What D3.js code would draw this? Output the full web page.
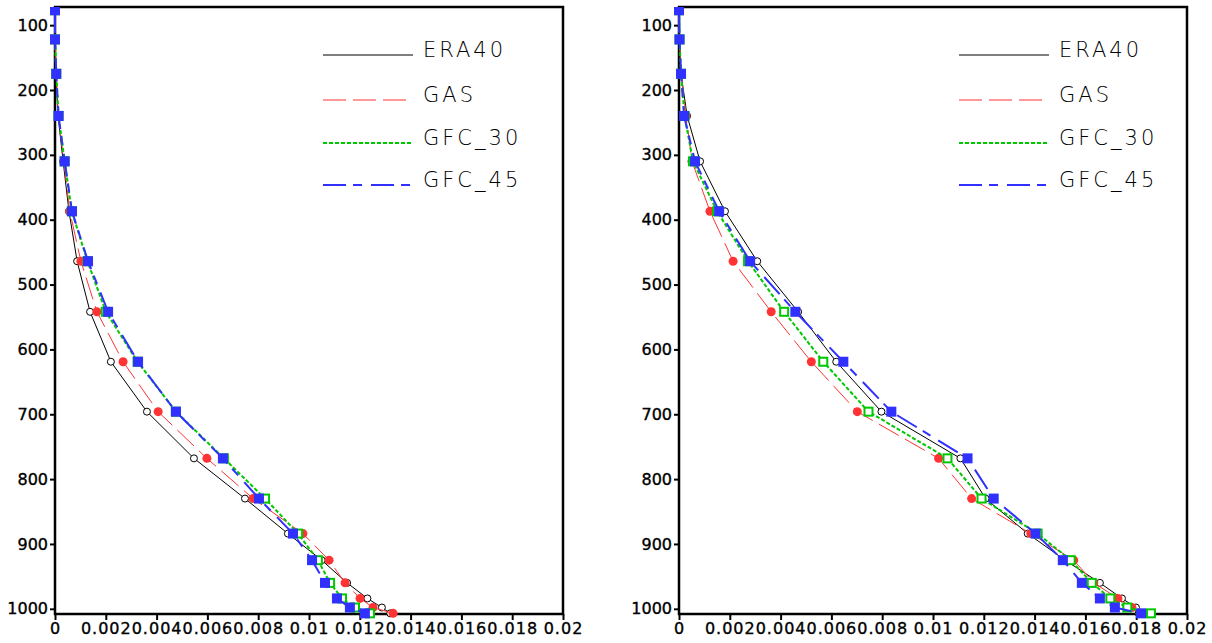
<!DOCTYPE html>
<html><head><meta charset="utf-8">
<script src="https://cdn.jsdelivr.net/npm/d3@7/dist/d3.min.js"></script>
<style>body{margin:0;background:#fff}svg{display:block}</style>
</head><body>
<script>
// ---- data ----
const seriesNames = ["ERA40", "GAS", "GFC_30", "GFC_45"];
const levels = [77, 122, 175, 240, 310, 387, 464, 542, 619, 696, 768, 830, 884, 925, 960, 984, 998, 1007];
const xTicks = [0, 0.002, 0.004, 0.006, 0.008, 0.01, 0.012, 0.014, 0.016, 0.018, 0.02];
const yTicks = [100, 200, 300, 400, 500, 600, 700, 800, 900, 1000];

const leftERA40 = [0, 0, 0.00004, 0.00012, 0.00032, 0.00055, 0.00087, 0.00138, 0.0022, 0.00362, 0.00547, 0.00748, 0.00917, 0.0105, 0.0115, 0.0123, 0.01287, 0.0132];
const leftGAS   = [0, 0, 0.00005, 0.00013, 0.00035, 0.00058, 0.00102, 0.00165, 0.00268, 0.00406, 0.00598, 0.0078, 0.00976, 0.01079, 0.01142, 0.01201, 0.01252, 0.01331];
const leftGFC30 = [0, 0, 0.00005, 0.00014, 0.00038, 0.00066, 0.00128, 0.002, 0.00325, 0.00476, 0.00665, 0.00827, 0.00957, 0.01035, 0.01083, 0.0113, 0.01181, 0.0124];
const leftGFC45 = [0, 0, 0.00005, 0.00014, 0.00038, 0.00067, 0.0013, 0.00209, 0.00327, 0.00476, 0.00661, 0.00803, 0.00937, 0.01012, 0.01063, 0.0111, 0.01161, 0.0122];

const rightERA40 = [0, 0.00002, 0.00008, 0.00032, 0.00083, 0.00181, 0.00308, 0.00469, 0.00619, 0.00797, 0.01108, 0.01207, 0.01373, 0.0152, 0.01657, 0.01744, 0.01799, 0.0181];
const rightGAS   = [0, 0.00002, 0.00008, 0.00028, 0.00051, 0.00122, 0.00213, 0.00363, 0.00521, 0.00702, 0.01022, 0.01152, 0.01385, 0.01554, 0.01633, 0.01728, 0.01783, 0.0182];
const rightGFC30 = [0, 0.00002, 0.00008, 0.00022, 0.00055, 0.0015, 0.00272, 0.00414, 0.00568, 0.00746, 0.01057, 0.01191, 0.01412, 0.01542, 0.01625, 0.01698, 0.01765, 0.01858];
const rightGFC45 = [0, 0.00002, 0.00008, 0.0002, 0.00063, 0.00158, 0.0028, 0.00458, 0.00647, 0.00836, 0.01136, 0.01239, 0.01404, 0.01511, 0.01586, 0.01657, 0.01716, 0.01819];

// ---- styles ----
const styles = {
  "ERA40":  {color: "#000000", width: 1,   dash: null,        marker: "openCircle"},
  "GAS":    {color: "#ff3333", width: 1,   dash: "23,7",      marker: "dot"},
  "GFC_30": {color: "#00c800", width: 2,   dash: "4,2",       marker: "openSquare"},
  "GFC_45": {color: "#3030ff", width: 2,   dash: "23,7,9,9",  marker: "square"}
};

const W = 1212, H = 643;
const svg = d3.select("body").append("svg").attr("width", W).attr("height", H);
svg.append("rect").attr("width", W).attr("height", H).attr("fill", "#fff");

const panels = [
  {x0: 55,  w: 508, legendX: 323, series: [leftERA40, leftGAS, leftGFC30, leftGFC45]},
  {x0: 679, w: 508, legendX: 959, series: [rightERA40, rightGAS, rightGFC30, rightGFC45]}
];
const plotTop = 7, ph = 607;

panels.forEach((p, pi) => {
  const g = svg.append("g").attr("transform", `translate(${p.x0},${plotTop})`);
  const x = d3.scaleLinear().domain([0, 0.02]).range([0, p.w]);
  const y = d3.scaleLinear().domain([72, 1008]).range([0, ph]);

  // axes
  const xa = g.append("g").attr("transform", `translate(0,${ph})`)
    .call(d3.axisBottom(x).tickValues(xTicks).tickSize(6).tickSizeOuter(0)
      .tickFormat(d => String(+d.toFixed(4))));
  const ya = g.append("g")
    .call(d3.axisLeft(y).tickValues(yTicks).tickSize(5).tickSizeOuter(0)
      .tickFormat(d3.format("d")));
  [xa, ya].forEach(a => {
    a.select(".domain").remove();
    a.selectAll("line").attr("stroke", "#000").attr("stroke-width", 2);
    a.selectAll("text").attr("font-family", "DejaVu Sans, sans-serif")
      .attr("font-size", 16).attr("fill", "#000")
      .attr("stroke", "#000").attr("stroke-width", 0.35);
  });
  xa.selectAll("text").attr("dy", "0.95em").attr("y", 5).attr("letter-spacing", 1);
  ya.selectAll("text").attr("x", -7);

  // frame
  g.append("rect").attr("x", 0).attr("y", 0).attr("width", p.w).attr("height", ph)
    .attr("fill", "none").attr("stroke", "#000").attr("stroke-width", 2.5);

  const clipId = "clip" + pi;
  g.append("clipPath").attr("id", clipId).append("rect")
    .attr("x", -20).attr("y", 0).attr("width", p.w + 40).attr("height", ph + 30);
  const plot = g.append("g").attr("clip-path", `url(#${clipId})`);

  seriesNames.forEach((name, si) => {
    const st = styles[name];
    const vals = p.series[si];
    const pts = levels.map((lv, i) => [x(vals[i]), y(lv)]);
    plot.append("path").attr("d", d3.line()(pts)).attr("fill", "none")
      .attr("stroke", st.color).attr("stroke-width", st.width)
      .attr("stroke-dasharray", st.dash);
    const mk = plot.append("g");
    pts.forEach(([px, py]) => {
      if (st.marker === "openCircle") {
        mk.append("circle").attr("cx", px).attr("cy", py).attr("r", 3.5)
          .attr("fill", "#fff").attr("stroke", "#000").attr("stroke-width", 1);
      } else if (st.marker === "dot") {
        mk.append("circle").attr("cx", px).attr("cy", py).attr("r", 4.5).attr("fill", st.color);
      } else if (st.marker === "openSquare") {
        mk.append("rect").attr("x", px - 4).attr("y", py - 4).attr("width", 8).attr("height", 8)
          .attr("fill", "#fff").attr("stroke", st.color).attr("stroke-width", 2);
      } else {
        mk.append("rect").attr("x", px - 5).attr("y", py - 5).attr("width", 10).attr("height", 10)
          .attr("fill", st.color);
      }
    });
  });

  // legend
  const lg = svg.append("g");
  const legY = [55, 100, 143, 185];
  seriesNames.forEach((name, si) => {
    const st = styles[name];
    lg.append("line").attr("x1", p.legendX).attr("x2", p.legendX + 90)
      .attr("y1", legY[si]).attr("y2", legY[si])
      .attr("stroke", st.color).attr("stroke-width", st.width === 1 ? 1.2 : 2)
      .attr("stroke-dasharray", st.dash);
    lg.append("text").attr("x", p.legendX + 100).attr("y", legY[si] + 2)
      .attr("font-family", "DejaVu Sans, sans-serif").attr("font-weight", 200)
      .attr("font-size", 21).attr("letter-spacing", 3).attr("fill", "#000").text(name);
  });
});
</script>
</body></html>
